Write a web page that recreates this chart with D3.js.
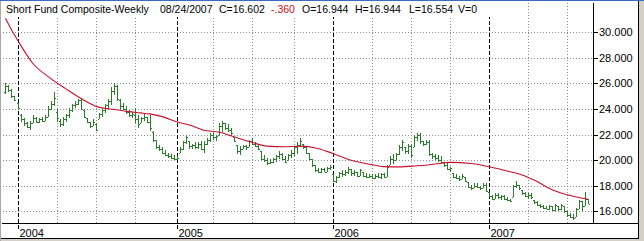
<!DOCTYPE html>
<html>
<head>
<meta charset="UTF-8">
<title>Short Fund Composite-Weekly</title>
<script src="https://cdn.jsdelivr.net/npm/d3@7"></script>
<style>
  html, body { margin: 0; padding: 0; background: #fff; }
  svg { display: block; font-family: "Liberation Sans", Arial, sans-serif; }
  .grid { stroke: #8c8c8c; stroke-dasharray: 1,2; shape-rendering: crispEdges; }
  .yearline { stroke: #000; stroke-dasharray: 4,2; shape-rendering: crispEdges; }
  .axisline { stroke: #000; shape-rendering: crispEdges; }
  .lbl { font-size: 11px; fill: #000; }
  .head { font-size: 10.5px; }
  .ma { fill: none; stroke: #c8102e; stroke-width: 1.1px; }
  .bar { fill: #2a7e2a; }
</style>
</head>
<body>
<svg width="644" height="241"></svg>
<script>
// weekly bars, first one on Friday 2003-12-05, last one 2007-08-24
var firstWeek = new Date(2003, 11, 5);
var lastWeek = new Date(2007, 7, 24);

var highs = [
  26.0,25.9,25.6,25.0,24.5,23.6,23.3,23.0,23.1,23.5,
  23.4,23.3,23.4,23.5,24.2,24.6,25.3,24.0,23.2,23.4,
  23.6,24.1,24.4,24.6,24.8,24.9,23.9,23.3,23.0,23.2,
  22.9,23.7,24.0,24.4,24.8,25.7,26.0,25.9,24.8,24.5,
  24.2,23.9,23.8,24.1,23.5,23.4,23.6,23.4,23.5,22.3,
  21.6,21.2,21.0,20.8,20.6,20.5,20.4,20.3,21.0,21.5,
  22.0,21.5,21.3,21.4,21.4,21.5,21.5,21.7,22.1,22.1,
  22.0,22.9,23.1,22.9,22.8,22.5,21.8,21.2,21.1,21.2,
  21.2,21.6,21.7,21.4,21.3,20.7,20.4,20.2,20.1,20.2,
  20.4,20.7,20.6,20.3,20.5,20.8,21.1,21.4,21.7,21.3,
  21.0,20.6,20.1,19.6,19.4,19.4,19.4,19.5,19.6,18.9,
  18.8,19.1,19.2,19.2,19.5,19.3,19.2,19.1,19.3,19.1,
  19.0,18.9,18.9,18.9,19.0,19.0,19.0,19.6,20.3,20.5,
  20.6,21.2,21.6,21.0,21.3,21.2,22.0,22.1,22.1,21.5,
  21.6,21.6,20.6,20.5,20.4,20.3,19.9,19.75,19.5,19.0,
  18.9,18.8,18.9,18.7,18.3,18.1,18.2,18.2,18.0,18.2,
  18.2,17.5,17.3,17.4,17.4,17.3,17.3,17.15,17.0,18.1,
  18.4,18.1,17.7,17.5,17.4,17.4,16.9,16.8,16.6,16.5,
  16.4,16.5,16.4,16.6,16.4,16.6,16.4,16.0,15.9,15.8,
  16.3,16.9,16.8,17.5,16.944
];
var lows = [
  25.2,25.3,24.9,24.6,24.0,23.0,22.7,22.5,22.4,22.9,
  22.9,22.9,23.0,23.1,23.4,23.9,24.2,23.0,22.6,22.7,
  23.0,23.3,23.8,24.1,24.3,23.9,23.3,22.9,22.5,22.7,
  22.3,23.2,23.4,23.7,24.0,24.3,25.1,24.6,24.0,23.9,
  23.6,23.4,23.3,22.9,22.5,22.9,23.1,22.9,22.3,21.4,
  20.9,20.7,20.5,20.3,20.2,20.1,20.0,20.0,20.6,20.8,
  21.3,20.9,20.9,20.9,20.9,20.8,20.6,21.2,21.4,21.6,
  21.5,22.0,22.2,22.4,22.2,22.0,21.4,20.5,20.4,20.9,
  20.8,21.0,21.2,21.0,20.8,20.0,19.9,19.6,19.7,19.8,
  19.9,20.1,20.0,19.8,20.0,20.2,20.3,20.5,21.0,20.9,
  20.5,20.0,19.5,19.1,19.0,19.0,19.05,19.1,19.2,18.3,
  18.2,18.6,18.7,18.8,18.9,18.8,18.8,18.7,18.8,18.7,
  18.6,18.6,18.5,18.5,18.6,18.55,18.6,18.7,19.6,19.7,
  20.0,20.4,20.7,20.5,20.5,20.2,21.0,21.5,21.3,21.1,
  21.2,20.3,20.1,20.0,19.9,19.8,19.5,19.2,19.1,18.6,
  18.5,18.35,18.5,18.3,17.8,17.7,17.8,17.8,17.7,17.8,
  17.5,17.15,16.9,17.0,17.0,16.9,16.9,16.8,16.7,17.1,
  17.8,17.7,17.3,17.1,17.0,17.0,16.6,16.4,16.3,16.2,
  16.15,16.1,16.0,16.0,16.0,16.1,15.9,15.6,15.45,15.3,
  15.6,16.2,16.0,16.4,16.554
];
var opens = [
  25.3,25.8,25.5,25.0,24.5,23.5,23.2,22.9,22.6,22.9,
  23.3,23.0,23.2,23.1,23.4,24.0,24.4,23.8,23.1,22.8,
  23.2,23.5,23.9,24.3,24.4,24.7,23.9,23.3,23.0,22.7,
  22.8,23.2,23.6,23.9,24.3,24.6,25.4,25.8,24.7,24.2,
  24.0,23.8,23.5,23.5,23.2,22.9,23.3,23.4,23.0,22.2,
  21.6,21.0,20.9,20.6,20.4,20.3,20.2,20.1,20.6,20.9,
  21.4,21.5,21.1,21.2,21.0,21.3,20.9,21.3,21.6,22.0,
  21.8,22.0,22.7,22.9,22.5,22.4,21.8,21.2,20.7,20.9,
  21.1,21.0,21.5,21.3,21.1,20.7,20.1,20.0,19.8,19.9,
  20.1,20.3,20.5,20.1,20.0,20.4,20.6,21.0,21.2,21.3,
  21.0,20.6,20.1,19.6,19.2,19.1,19.3,19.1,19.4,18.9,
  18.4,18.7,19.0,18.9,19.1,19.3,19.0,19.1,18.8,19.1,
  18.8,18.7,18.8,18.6,18.8,18.7,18.9,18.7,19.6,20.1,
  20.0,20.5,21.0,21.0,20.7,21.1,21.0,21.8,22.0,21.5,
  21.3,21.4,20.5,20.3,20.2,20.0,19.9,19.6,19.3,19.0,
  18.7,18.6,18.5,18.7,18.3,17.9,17.8,18.0,17.9,17.8,
  18.1,17.5,17.2,17.0,17.3,17.1,17.2,17.0,16.9,17.1,
  18.0,18.1,17.7,17.4,17.2,17.3,16.9,16.7,16.5,16.4,
  16.3,16.2,16.4,16.1,16.4,16.2,16.4,16.0,15.7,15.6,
  15.6,16.2,16.8,16.4,16.944
];
var closes = [
  25.8,25.5,25.0,24.7,24.1,23.2,22.9,22.6,22.9,23.3,
  23.0,23.2,23.1,23.4,24.0,24.4,24.9,23.3,22.8,23.2,
  23.5,23.9,24.3,24.4,24.7,24.0,23.4,23.0,22.7,23.0,
  22.4,23.6,23.9,24.3,24.6,25.4,25.8,24.8,24.2,24.0,
  23.8,23.5,23.6,23.2,22.8,23.3,23.4,23.0,22.5,21.6,
  21.0,20.9,20.6,20.4,20.3,20.2,20.1,20.2,20.9,21.4,
  21.8,21.1,21.2,21.0,21.3,20.9,21.3,21.6,22.0,21.8,
  21.9,22.7,22.9,22.5,22.4,22.1,21.5,20.7,20.9,21.1,
  21.0,21.5,21.3,21.1,20.9,20.1,20.0,19.8,19.9,20.1,
  20.3,20.5,20.1,19.9,20.4,20.6,21.0,21.2,21.5,21.0,
  20.6,20.1,19.6,19.2,19.1,19.3,19.1,19.4,19.5,18.4,
  18.7,19.0,18.9,19.1,19.3,19.0,19.1,18.8,19.2,18.8,
  18.7,18.8,18.6,18.8,18.7,18.9,18.7,19.5,20.1,20.0,
  20.5,21.0,21.4,20.7,21.1,20.4,21.8,22.0,21.5,21.3,
  21.4,20.5,20.3,20.2,20.0,19.9,19.6,19.3,19.4,18.7,
  18.6,18.5,18.8,18.4,17.9,17.8,18.0,17.9,17.8,18.1,
  17.6,17.2,17.0,17.3,17.1,17.2,17.0,16.9,16.8,18.0,
  18.1,17.8,17.4,17.2,17.3,17.1,16.7,16.5,16.4,16.3,
  16.2,16.4,16.1,16.5,16.2,16.5,16.0,15.7,15.6,15.5,
  16.2,16.8,16.4,16.962,16.602
];

// moving average read at some bar numbers
var maWeek = [0,2,4,9,15,20,25,31,37,41,45,48,53,57,62,66,71,76,82,87,93,98,
              104,109,115,120,126,131,137,142,148,155,161,168,172,176,182,188,194];
var maValue = [31.1,30.2,29.4,27.6,26.4,25.6,24.85,24.15,23.95,23.8,23.7,23.62,23.35,23.0,
               22.7,22.35,22.2,21.83,21.4,21.1,21.05,21.1,20.92,20.53,20.0,19.75,19.5,19.48,
               19.57,19.67,19.83,19.75,19.49,19.1,18.85,18.45,17.7,17.25,16.95];

var yearStarts = ["2004-01-02", "2005-01-07", "2006-01-06", "2007-01-05"];
var yearLabels = ["2004", "2005", "2006", "2007"];
var priceTicks = [16, 18, 20, 22, 24, 26, 28, 30];

var titleText = "Short Fund Composite-Weekly";
var headerLabels = ["08/24/2007", "C=16.602", "-.360", "O=16.944", "H=16.944", "L=16.554", "V=0"];

var svg = d3.select("svg");
var W = 644, H = 241;
var plotL = 2, plotR = 593, plotT = 3, plotB = 223;

var parse = d3.timeParse("%Y-%m-%d");
var weeks = d3.timeFriday.range(firstWeek, d3.timeDay.offset(lastWeek, 1));

var x = d3.scaleTime()
    .domain([parse("2004-01-02"), parse("2007-01-05")])
    .range([17.5, 489]);
var y = d3.scaleLinear().domain([16, 30]).range([211.4, 32.3]);

// frame
svg.append("rect").attr("width", W).attr("height", H).attr("fill", "#fff");
svg.append("rect").attr("x", 639).attr("y", 0).attr("width", 5).attr("height", H).attr("fill", "#d4d0c8");
svg.append("rect").attr("x", 0).attr("y", 239).attr("width", W).attr("height", 2).attr("fill", "#d4d0c8");
svg.append("line").attr("class", "axisline").attr("x1", 638.5).attr("x2", 638.5).attr("y1", 0).attr("y2", 239).attr("stroke", "#404040");
svg.append("line").attr("class", "axisline").attr("x1", 0).attr("x2", 639).attr("y1", 238.5).attr("y2", 238.5).attr("stroke", "#404040");
svg.append("rect").attr("x", 0).attr("y", 0).attr("width", 1).attr("height", H).attr("fill", "#a8a8a8");
svg.append("rect").attr("x", 0).attr("y", 0).attr("width", W).attr("height", 1).attr("fill", "#3a6cc0");

// horizontal grid
svg.append("g").selectAll("line").data(priceTicks).join("line")
    .attr("class", "grid")
    .attr("x1", plotL + 1).attr("x2", plotR)
    .attr("y1", d => Math.round(y(d)) + 0.5).attr("y2", d => Math.round(y(d)) + 0.5);

// quarter grid
var quarters = [];
[2004, 2005, 2006, 2007].forEach(function (yr) {
  [3, 6, 9].forEach(function (m) {
    var d = d3.timeFriday.ceil(new Date(yr, m, 1));
    if (d <= lastWeek) quarters.push(d);
  });
});
svg.append("g").selectAll("line").data(quarters).join("line")
    .attr("class", "grid")
    .attr("x1", d => Math.round(x(d)) + 0.5).attr("x2", d => Math.round(x(d)) + 0.5)
    .attr("y1", plotT).attr("y2", plotB);

// year lines
var years = yearStarts.map(parse);
svg.append("g").selectAll("line").data(years).join("line")
    .attr("class", "yearline")
    .attr("x1", d => Math.round(x(d)) + 0.5).attr("x2", d => Math.round(x(d)) + 0.5)
    .attr("y1", plotT).attr("y2", plotB + 6);

svg.append("g").selectAll("text").data(years).join("text")
    .attr("class", "lbl")
    .attr("x", d => Math.round(x(d)) + 1.5)
    .attr("y", 236.5)
    .text((d, i) => yearLabels[i]);

// clip for plot
svg.append("clipPath").attr("id", "plotclip").append("rect")
    .attr("x", plotL).attr("y", plotT).attr("width", plotR - plotL).attr("height", plotB - plotT);
var plot = svg.append("g").attr("clip-path", "url(#plotclip)");

// OHLC bars
var bars = plot.append("g").selectAll("g").data(weeks).join("g");
bars.append("rect").attr("class", "bar")
    .attr("x", d => Math.round(x(d)))
    .attr("y", (d, i) => Math.round(y(highs[i])))
    .attr("width", 1)
    .attr("height", (d, i) => Math.max(1, Math.round(y(lows[i])) - Math.round(y(highs[i]))));
bars.append("rect").attr("class", "bar")
    .attr("x", d => Math.round(x(d)) - 1)
    .attr("y", (d, i) => Math.round(y(opens[i])))
    .attr("width", 1).attr("height", 1);
bars.append("rect").attr("class", "bar")
    .attr("x", d => Math.round(x(d)) + 1)
    .attr("y", (d, i) => Math.round(y(closes[i])))
    .attr("width", 1).attr("height", 1);

// moving average
var maLine = d3.line()
    .x(d => x(weeks[d]))
    .y((d, i) => y(maValue[i]))
    .curve(d3.curveMonotoneX);
plot.append("path").attr("class", "ma").attr("d", maLine(maWeek));

// axes
svg.append("line").attr("class", "axisline")
    .attr("x1", plotR + 0.5).attr("x2", plotR + 0.5).attr("y1", plotT).attr("y2", plotB);
svg.append("line").attr("class", "axisline")
    .attr("x1", plotL).attr("x2", 638).attr("y1", plotB + 0.5).attr("y2", plotB + 0.5);

var yt = svg.append("g").selectAll("g").data(priceTicks).join("g")
    .attr("transform", d => "translate(0," + (Math.round(y(d)) + 0.5) + ")");
yt.append("line").attr("class", "axisline").attr("x1", plotR).attr("x2", plotR + 5);
yt.append("text").attr("class", "lbl")
    .attr("x", 599).attr("dy", "0.36em")
    .text(d => d3.format(".3f")(d));

// header
svg.append("rect").attr("x", plotL).attr("y", plotT - 1).attr("width", 498).attr("height", 15).attr("fill", "#fff");
var headX = [160, 219, 271, 302, 355, 409, 458];
svg.append("text").attr("class", "lbl head").attr("x", 6).attr("y", 13).text(titleText);
svg.append("g").selectAll("text").data(headerLabels).join("text")
    .attr("class", "lbl head")
    .attr("x", (d, i) => headX[i])
    .attr("y", 13)
    .style("fill", d => d.charAt(0) === "-" ? "#d01010" : "#000")
    .text(d => d);
</script>
</body>
</html>
